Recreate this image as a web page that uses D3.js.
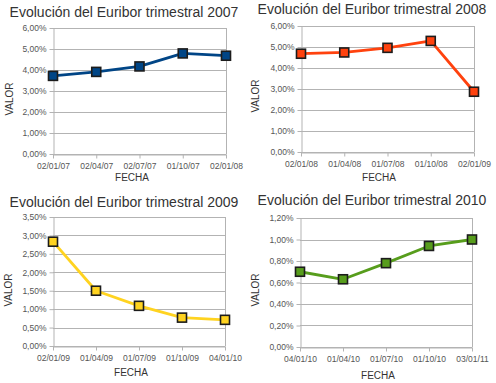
<!DOCTYPE html>
<html><head><meta charset="utf-8">
<script src="https://cdn.jsdelivr.net/npm/d3@7"></script>
<style>
html,body{margin:0;padding:0;background:#fff;}
svg{display:block;font-family:"Liberation Sans",Arial,sans-serif;}
</style></head>
<body><svg id="c" width="496" height="383"></svg>
<script>
// ---- data ----
const titles = ["Evolución del Euribor trimestral 2007","Evolución del Euribor trimestral 2008","Evolución del Euribor trimestral 2009","Evolución del Euribor trimestral 2010"];
const dates2007 = ["02/01/07","02/04/07","02/07/07","01/10/07","02/01/08"];
const dates2008 = ["02/01/08","01/04/08","01/07/08","01/10/08","02/01/09"];
const dates2009 = ["02/01/09","01/04/09","01/07/09","01/10/09","04/01/10"];
const dates2010 = ["04/01/10","01/04/10","01/07/10","01/10/10","03/01/11"];
const values2007 = [3.72, 3.91, 4.17, 4.79, 4.68];
const values2008 = [4.68, 4.74, 4.96, 5.29, 2.87];
const values2009 = [2.83, 1.50, 1.09, 0.77, 0.71];
const values2010 = [0.70, 0.63, 0.78, 0.94, 1.00];
const yMax = [6, 6, 3.5, 1.2];
const yStep = [1, 1, 0.5, 0.2];
const colors = ["#004586","#ff420e","#ffd320","#579d1c"];
const xTitle = "FECHA", yTitle = "VALOR";

// ---- layout ----
const panels = [
  {dates:dates2007, vals:values2007, l:53, r:226, t:28, b:154, tx:124, ty:17, fx:132, fy:181, vx:13, vy:99},
  {dates:dates2008, vals:values2008, l:301, r:474, t:26, b:152, tx:372, ty:14, fx:379, fy:181, vx:259, vy:96},
  {dates:dates2009, vals:values2009, l:53, r:225, t:217, b:346, tx:124, ty:207, fx:131, fy:376, vx:12, vy:290},
  {dates:dates2010, vals:values2010, l:300, r:472, t:218, b:347, tx:372, ty:205, fx:378, fy:379, vx:259, vy:290}
];

const svg = d3.select("#c");
const fmt = v => d3.format(".2f")(v).replace(".", ",") + "%";

panels.forEach((p, i) => {
  const g = svg.append("g");
  const x = d3.scalePoint().domain(p.dates).range([p.l, p.r]);
  const y = d3.scaleLinear().domain([0, yMax[i]]).range([p.b, p.t]);
  const ticks = d3.range(0, yMax[i] + yStep[i]/2, yStep[i]);

  // gridlines
  g.append("g").selectAll("line").data(ticks).join("line")
    .attr("x1", p.l).attr("x2", p.r)
    .attr("y1", d => Math.round(y(d)) + 0.5).attr("y2", d => Math.round(y(d)) + 0.5)
    .attr("stroke", "#b3b3b3").attr("stroke-width", 1);
  // right border
  g.append("line").attr("x1", Math.round(p.r)+0.5).attr("x2", Math.round(p.r)+0.5)
    .attr("y1", p.t).attr("y2", p.b).attr("stroke", "#b3b3b3");

  // y axis
  const ya = g.append("g").attr("transform", `translate(${Math.round(p.l)+0.5},0)`)
    .call(d3.axisLeft(y).tickValues(ticks).tickFormat(fmt).tickSize(4).tickPadding(3).tickSizeOuter(0));
  ya.select(".domain").attr("stroke", "#b3b3b3");
  ya.selectAll(".tick line").attr("stroke", "#b3b3b3");
  ya.selectAll("text").attr("fill", "#555").style("font-size", "8.5px").style("font-family", "Liberation Sans, Arial, sans-serif");

  // x axis
  const xa = g.append("g").attr("transform", `translate(0,${Math.round(p.b)+0.5})`)
    .call(d3.axisBottom(x).tickSize(4).tickPadding(4).tickSizeOuter(0));
  xa.select(".domain").attr("stroke", "#b3b3b3");
  xa.selectAll(".tick line").attr("stroke", "#b3b3b3");
  xa.selectAll("text").attr("fill", "#555").style("font-size", "8.5px").style("font-family", "Liberation Sans, Arial, sans-serif");

  // line
  const line = d3.line().x((d, j) => x(p.dates[j])).y(d => y(d));
  g.append("path").datum(p.vals).attr("d", line)
    .attr("fill", "none").attr("stroke", colors[i]).attr("stroke-width", 2.8).attr("stroke-linejoin", "round");
  // markers
  const ms = 9;
  g.append("g").selectAll("rect").data(p.vals).join("rect")
    .attr("x", (d, j) => x(p.dates[j]) - ms/2).attr("y", d => y(d) - ms/2)
    .attr("width", ms).attr("height", ms)
    .attr("fill", colors[i]).attr("stroke", "#1c1c1c").attr("stroke-width", 1.6);

  // titles
  g.append("text").attr("x", p.tx).attr("y", p.ty).attr("text-anchor", "middle")
    .attr("fill", "#333").style("font-size", "14px").text(titles[i]);
  g.append("text").attr("x", p.fx).attr("y", p.fy).attr("text-anchor", "middle")
    .attr("fill", "#333").style("font-size", "10px").text(xTitle);
  g.append("text").attr("transform", `translate(${p.vx},${p.vy}) rotate(-90)`).attr("text-anchor", "middle")
    .attr("fill", "#333").style("font-size", "10px").text(yTitle);
});
</script></body></html>
